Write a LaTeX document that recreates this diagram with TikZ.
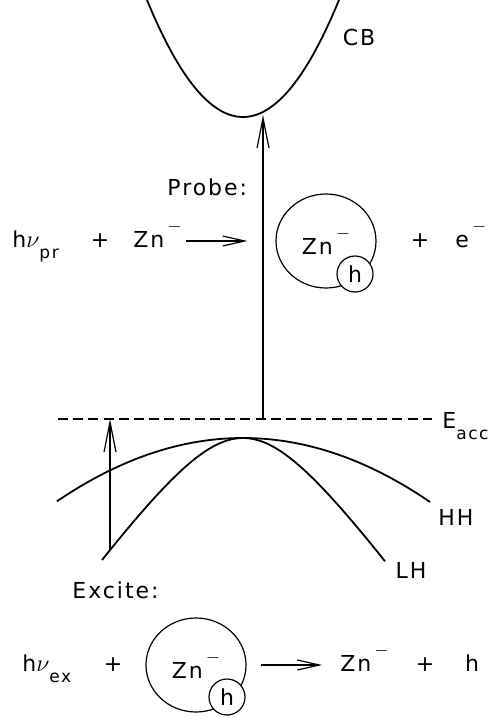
\documentclass[tikz,border=0pt]{standalone}
\usepackage{fontspec}
\setmainfont{DejaVu Sans}[LetterSpace=9]
\usetikzlibrary{arrows.meta,shapes.geometric}
\newcommand\lowsub[1]{\raisebox{-5.5pt}{\fontsize{8.5}{9}\selectfont #1}}
\newcommand\minussup{\hspace{1.5pt}\raisebox{8pt}{\fontsize{9}{9}\selectfont$-$}}
\newcommand\bignu{{\fontsize{13}{13}\selectfont$\nu$}}

\begin{document}
\begin{tikzpicture}[
    x=0.5pt, y=-0.5pt,
    every node/.style={font=\fontsize{11}{13}\selectfont, inner sep=0pt},
    band/.style={line width=0.9pt},
    level/.style={line width=0.6pt, dash pattern=on 5pt off 2.6pt},
    uparrow/.style={line width=0.6pt, -{Straight Barb[length=15pt,width=6pt]}},
    pointer/.style={line width=0.6pt, -{Straight Barb[length=11pt,width=5pt]}},
    blob/.style={draw, ellipse, line width=0.6pt, minimum width=50pt, minimum height=47pt},
    hole/.style={draw, circle, fill=white, line width=0.6pt, minimum size=18pt}
  ]
  \useasboundingbox (0,0) rectangle (492,717);

  % bands
  \draw[band] plot[domain=147:339, samples=60] (\x, {117-117*((\x-243)/96)^2});
  \draw[band] plot[domain=57:430, samples=80] (\x, {438+63.3*((\x-243)/186)^2});
  \draw[band] plot[domain=102:385, samples=80] (\x, {438+97.7*(sqrt(1+((\x-243)/70)^2)-1)});
  \draw[level] (58,419) -- (432,419);

  \node (cb) at (359,37) {CB};
  \node[anchor=west] (eacc) at (442,426) {E\lowsub{acc}};
  \node (hh) at (456,517) {HH};
  \node (lh) at (411,570) {LH};

  % transitions
  \coordinate (cbmin) at (263,115);
  \coordinate (probefoot) at (263,419);
  \coordinate (exfoot) at (110,550);
  \coordinate (extop) at (110,419);
  \draw[uparrow] (probefoot) -- (cbmin);
  \draw[uparrow] (exfoot) -- (extop);

  % probe reaction
  \node[anchor=west] (probe) at (167,187) {Probe:};
  \node[anchor=base west] (hnupr) at (12,247) {h\bignu\lowsub{pr}};
  \node[anchor=base] (plusa) at (100,247) {+};
  \node[anchor=base west] (znpr) at (133,247) {Zn\minussup};
  \node[blob] (prblob) at (326,241) {Zn\minussup};
  \node[hole] (prhole) at (355,274) {h};
  \node[anchor=base] (plusb) at (420,247) {+};
  \node[anchor=base west] (elec) at (455,247) {e\minussup};
  \draw[pointer, shorten <=2pt, shorten >=14pt] (znpr.east |- prblob) -- (prblob.west);

  % excite reaction
  \node[anchor=west] (excite) at (72,590) {Excite:};
  \node[anchor=base west] (hnuex) at (22,671) {h\bignu\lowsub{ex}};
  \node[anchor=base] (plusc) at (113,671) {+};
  \node[blob] (exblob) at (196,665) {Zn\minussup};
  \node[hole] (exhole) at (227,697) {h};
  \node[anchor=base west] (znex) at (340,671) {Zn\minussup};
  \node[anchor=base] (plusd) at (425,671) {+};
  \node[anchor=base] (hfree) at (472,671) {h};
  \draw[pointer, shorten <=7pt, shorten >=9pt] (exblob.east) -- (exblob.east -| znex.west);
\end{tikzpicture}
\end{document}
